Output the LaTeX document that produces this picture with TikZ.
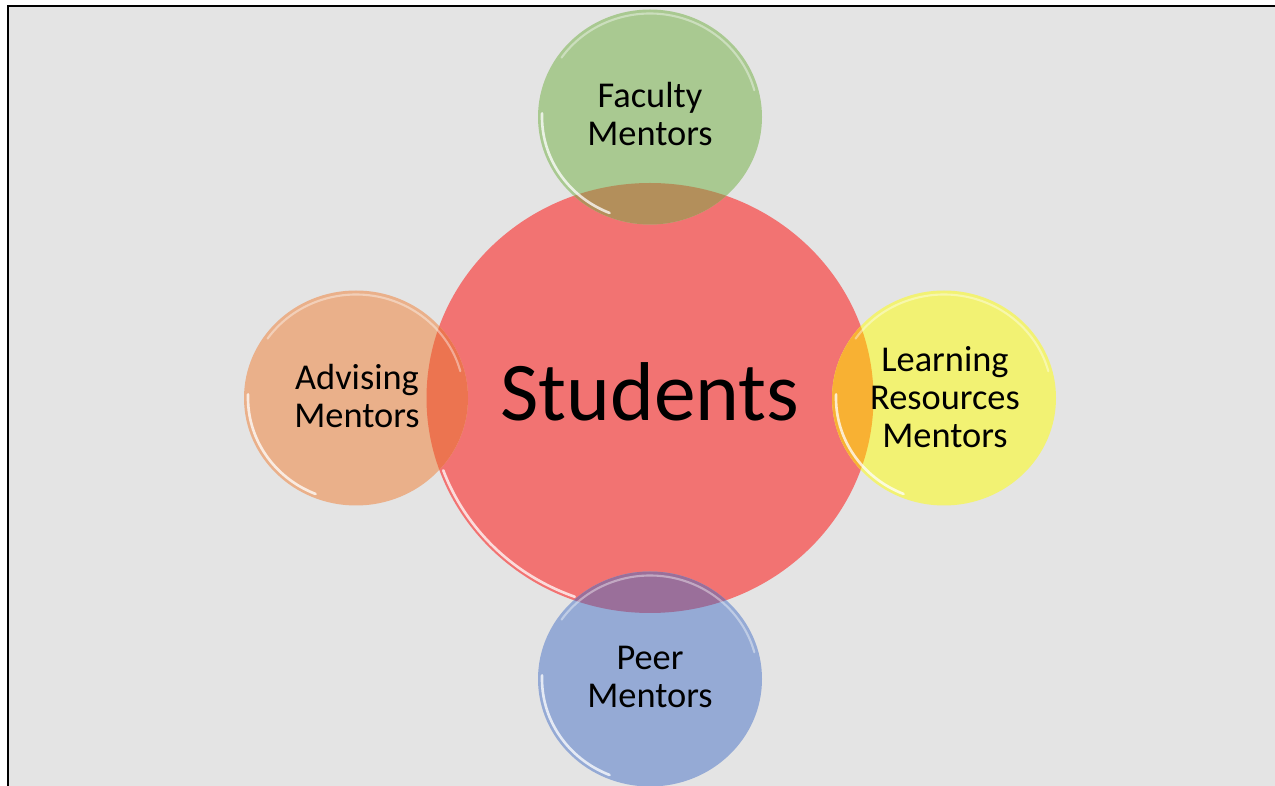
\documentclass[tikz,border=0pt]{standalone}
\usepackage{fontspec}
\setmainfont{Carlito}
\usepackage{tikz}

\definecolor{bggray}{HTML}{E4E4E4}
\definecolor{stured}{HTML}{F27372}
\definecolor{facgreen}{HTML}{A9C991}
\definecolor{advorange}{HTML}{EAB08A}
\definecolor{lrnyellow}{HTML}{F2F273}
\definecolor{peerblue}{HTML}{95AAD5}
\definecolor{facover}{HTML}{B38F5B}
\definecolor{advover}{HTML}{EC7450}
\definecolor{lrnover}{HTML}{F8B133}
\definecolor{peerover}{HTML}{9A6F9A}

\tikzset{
  mentor/.style={align=center, font=\fontsize{20.7}{21.7}\selectfont},
  rim/.style={white, line width=1.5pt, opacity=0.75, line cap=round},
  softrim/.style={white, line width=1.2pt, opacity=0.4, line cap=round}
}

\begin{document}
\begin{tikzpicture}[x=0.02cm, y=-0.02cm]
\useasboundingbox (0,0) rectangle (1275,786);
\fill[white] (0,0) rectangle (1275,786);
\fill[bggray] (8,5.5) rectangle (1275,786);
\draw[line width=1.2pt] (8.3,786) -- (8.3,5.7) -- (1275,5.7);

% big circle
\fill[stured] (650,398) ellipse [x radius=223.5, y radius=215];
\draw[rim] (650,398) ++(110:220 and 211.5) arc [start angle=110, end angle=160, x radius=220, y radius=211.5];

% the four mentor circles
\fill[facgreen] (650,117) ellipse [x radius=112, y radius=107.5];
\fill[advorange] (356,398) ellipse [x radius=112, y radius=107.5];
\fill[lrnyellow] (944,398) ellipse [x radius=112, y radius=107.5];
\fill[peerblue] (650,679) ellipse [x radius=112, y radius=107.5];

% overlaps
\begin{scope}
\clip (650,398) ellipse [x radius=223.5, y radius=215];
\fill[facover] (650,117) ellipse [x radius=112, y radius=107.5];
\fill[advover] (356,398) ellipse [x radius=112, y radius=107.5];
\fill[lrnover] (944,398) ellipse [x radius=112, y radius=107.5];
\fill[peerover] (650,679) ellipse [x radius=112, y radius=107.5];
\end{scope}

% glossy rims
\draw[rim] (650,117) ++(112:108 and 103.5) arc [start angle=112, end angle=182, x radius=108, y radius=103.5];
\draw[softrim] (650,117) ++(215:108 and 103.5) arc [start angle=215, end angle=345, x radius=108, y radius=103.5];
\draw[rim] (356,398) ++(112:108 and 103.5) arc [start angle=112, end angle=182, x radius=108, y radius=103.5];
\draw[softrim] (356,398) ++(215:108 and 103.5) arc [start angle=215, end angle=345, x radius=108, y radius=103.5];
\draw[rim] (944,398) ++(112:108 and 103.5) arc [start angle=112, end angle=182, x radius=108, y radius=103.5];
\draw[softrim] (944,398) ++(215:108 and 103.5) arc [start angle=215, end angle=345, x radius=108, y radius=103.5];
\draw[rim] (650,679) ++(112:108 and 103.5) arc [start angle=112, end angle=182, x radius=108, y radius=103.5];
\draw[softrim] (650,679) ++(215:108 and 103.5) arc [start angle=215, end angle=345, x radius=108, y radius=103.5];

% labels
\node[font=\fontsize{47.5}{50}\selectfont, anchor=base] (students) at (650,421) {Students};
\node[mentor] (faculty) at (650,114) {Faculty\\Mentors};
\node[mentor] (advising) at (357,396) {Advising\\Mentors};
\node[mentor] (learning) at (945,397) {Learning\\Resources\\Mentors};
\node[mentor] (peer) at (650,677) {Peer\\Mentors};
\end{tikzpicture}
\end{document}
